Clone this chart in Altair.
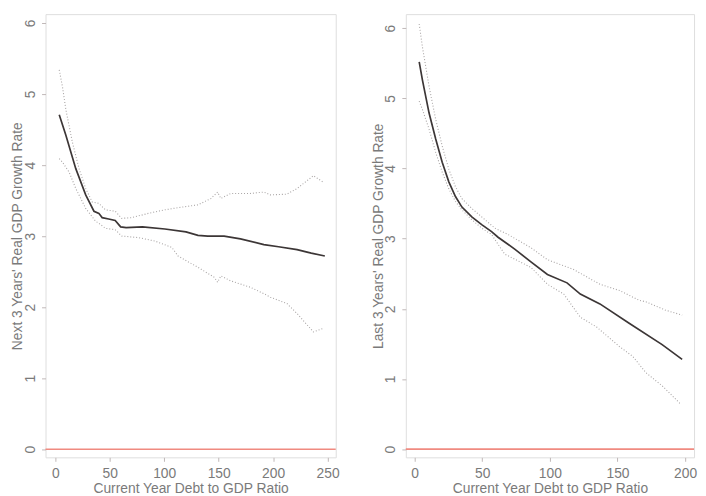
import altair as alt
import pandas as pd

# ---- Left panel: Next 3 Years' growth vs current debt ----
L_main_x = [3.6, 9.7, 18.8, 27.9, 35.5, 40, 43, 49, 55, 60, 65, 80, 100.6, 120, 131, 140, 155, 170, 191.5, 205, 222, 235, 247.5]
L_main_y = [4.71, 4.42, 3.95, 3.58, 3.35, 3.32, 3.26, 3.24, 3.22, 3.13, 3.12, 3.13, 3.10, 3.06, 3.01, 3.00, 3.00, 2.96, 2.88, 2.85, 2.81, 2.76, 2.72]

L_up_x = [3.6, 6.6, 9.7, 15.7, 21.8, 27.9, 33.9, 40, 46, 55, 61, 70.3, 85.5, 100.6, 112.7, 131, 143, 149, 152, 161, 179, 191.5, 197.5, 212.7, 222, 237, 246]
L_up_y = [5.34, 5.10, 4.78, 4.32, 3.95, 3.67, 3.48, 3.46, 3.37, 3.35, 3.25, 3.26, 3.32, 3.37, 3.40, 3.44, 3.53, 3.62, 3.53, 3.60, 3.60, 3.62, 3.58, 3.59, 3.67, 3.85, 3.76]

L_lo_x = [3.6, 6.6, 12.7, 18.8, 27.9, 37, 40, 46, 55, 61, 76, 91.5, 107, 112.7, 131, 146, 149, 152, 161, 179, 191.5, 197.5, 212.7, 222, 237, 246]
L_lo_y = [4.09, 4.04, 3.90, 3.67, 3.39, 3.21, 3.18, 3.11, 3.09, 3.00, 2.98, 2.93, 2.84, 2.72, 2.56, 2.42, 2.35, 2.44, 2.37, 2.28, 2.19, 2.14, 2.05, 1.91, 1.65, 1.70]

# ---- Right panel: Last 3 Years' growth vs current debt ----
R_main_x = [3.4, 5.8, 10.7, 15.6, 20.4, 25.3, 30.2, 35, 42.3, 49.6, 56.9, 61.7, 69, 74, 86, 98.2, 112.7, 122.5, 137, 158.9, 183, 197.8]
R_main_y = [5.52, 5.26, 4.79, 4.42, 4.09, 3.81, 3.60, 3.45, 3.31, 3.20, 3.10, 3.02, 2.92, 2.85, 2.67, 2.49, 2.37, 2.21, 2.07, 1.79, 1.49, 1.28]

R_up_x = [3.4, 5.8, 10.7, 15.6, 20.4, 25.3, 30.2, 35, 42.3, 49.6, 59.3, 69, 86, 98.2, 117.6, 137, 151.6, 166.2, 171, 185.6, 197.8]
R_up_y = [6.06, 5.73, 5.17, 4.70, 4.32, 3.99, 3.74, 3.57, 3.43, 3.31, 3.15, 3.06, 2.87, 2.70, 2.56, 2.35, 2.26, 2.12, 2.10, 1.98, 1.91]

R_lo_x = [3.4, 5.8, 10.7, 15.6, 20.4, 25.3, 30.2, 35, 42.3, 49.6, 56.9, 61.7, 66.6, 86, 98.2, 110.3, 122.5, 134.6, 151.6, 161.4, 171, 183.2, 196.8]
R_lo_y = [4.96, 4.84, 4.56, 4.23, 3.95, 3.71, 3.53, 3.41, 3.27, 3.15, 3.06, 2.92, 2.78, 2.59, 2.35, 2.21, 1.88, 1.74, 1.46, 1.32, 1.09, 0.90, 0.64]

y_ticks = [0, 1, 2, 3, 4, 5, 6]
L_x_ticks = [0, 50, 100, 150, 200, 250]
R_x_ticks = [0, 50, 100, 150, 200]

FONT = "Liberation Sans"
FS = 14
TFS = 14
TXT = "#7a7a7a"
FRAME = "#bfb7b7"
MAIN = "#3c3636"
BAND = "#a8a4a4"
RED = "#f08a80"


def df(xs, ys):
    return pd.DataFrame({"x": xs, "y": ys})


def panel(main, up, lo, xdom, ydom, xticks, xtitle, ytitle, w, h):
    xs = alt.Scale(domain=xdom, nice=False, zero=False)
    ys = alt.Scale(domain=ydom, nice=False, zero=False)
    xax = alt.Axis(values=xticks, title=xtitle, grid=False, domain=False,
                   tickSize=4, tickColor=FRAME, labelColor=TXT, titleColor=TXT,
                   labelFont=FONT, titleFont=FONT, labelFontSize=FS, titleFontSize=TFS,
                   titleFontWeight="normal", labelPadding=5, labelFlush=False,
                   labelOverlap=False, titleY=32, titleBaseline="middle")
    yax = alt.Axis(values=y_ticks, title=ytitle, grid=False, domain=False,
                   tickSize=4, tickColor=FRAME, labelColor=TXT, titleColor=TXT,
                   labelFont=FONT, titleFont=FONT, labelFontSize=FS, titleFontSize=TFS,
                   titleFontWeight="normal", labelAngle=270, labelAlign="center",
                   labelBaseline="alphabetic", labelPadding=7, labelFlush=False,
                   labelOverlap=False, titleAngle=270, titleX=-28, titleY=h / 2,
                   titleBaseline="middle", titleAlign="center")
    zero = alt.Chart(pd.DataFrame({"y": [0]})).mark_rule(
        color=RED, strokeWidth=1.6).encode(y=alt.Y("y:Q", scale=ys, axis=yax))
    band_up = alt.Chart(df(*up)).mark_line(
        color=BAND, strokeWidth=1.1, strokeDash=[1, 2]).encode(
        x=alt.X("x:Q", scale=xs, axis=xax), y=alt.Y("y:Q", scale=ys, axis=yax), order="x:Q")
    band_lo = alt.Chart(df(*lo)).mark_line(
        color=BAND, strokeWidth=1.1, strokeDash=[1, 2]).encode(
        x=alt.X("x:Q", scale=xs, axis=xax), y=alt.Y("y:Q", scale=ys, axis=yax), order="x:Q")
    mline = alt.Chart(df(*main)).mark_line(
        color=MAIN, strokeWidth=1.7).encode(
        x=alt.X("x:Q", scale=xs, axis=xax), y=alt.Y("y:Q", scale=ys, axis=yax), order="x:Q")
    return alt.layer(zero, band_up, band_lo, mline).properties(width=w, height=h)


left = panel((L_main_x, L_main_y), (L_up_x, L_up_y), (L_lo_x, L_lo_y),
             [-9, 257.5], [-0.115, 6.125], L_x_ticks,
             "Current Year Debt to GDP Ratio", "Next 3 Years' Real GDP Growth Rate", 294, 449)
right = panel((R_main_x, R_main_y), (R_up_x, R_up_y), (R_lo_x, R_lo_y),
              [-6.5, 206.6], [-0.117, 6.2], R_x_ticks,
              "Current Year Debt to GDP Ratio", "Last 3 Years' Real GDP Growth Rate", 292, 449)

chart = alt.hconcat(left, right, spacing=31).properties(
    padding={"left": 2, "top": 2, "right": 0, "bottom": 0}
).configure_view(stroke=FRAME, strokeWidth=1.2).configure(background="white")

chart.save("out.html", embed_options={"renderer": "svg", "actions": False})
